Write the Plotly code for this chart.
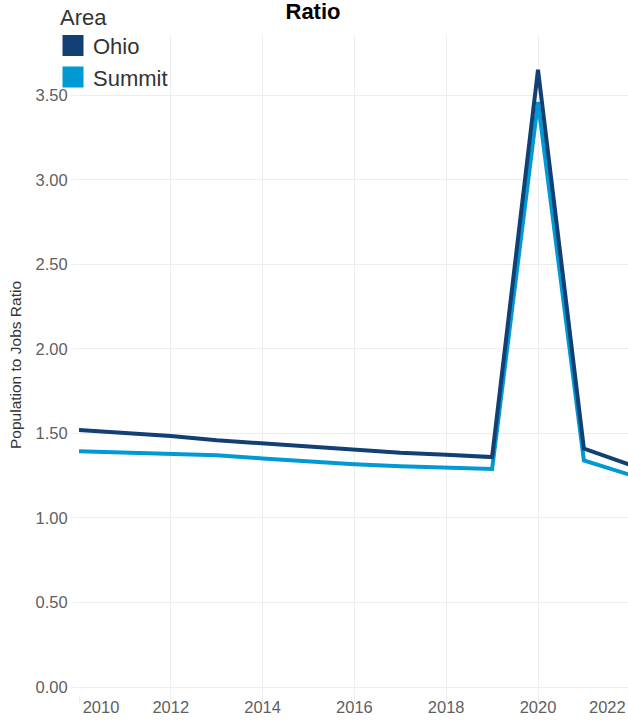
import plotly.graph_objects as go

years = [2010, 2011, 2012, 2013, 2014, 2015, 2016, 2017, 2018, 2019, 2020, 2021, 2022]
ohio = [1.52, 1.505, 1.485, 1.46, 1.44, 1.42, 1.40, 1.385, 1.374, 1.36, 3.65, 1.41, 1.315]
summit = [1.395, 1.386, 1.376, 1.371, 1.352, 1.333, 1.318, 1.306, 1.30, 1.29, 3.46, 1.34, 1.255]

x_grid = [2010, 2012, 2014, 2016, 2018, 2020, 2022]
x_label_pos = [2010.48, 2012, 2014, 2016, 2018, 2020, 2021.51]
x_label_text = ["2010", "2012", "2014", "2016", "2018", "2020", "2022"]
y_ticks = [0, 0.5, 1.0, 1.5, 2.0, 2.5, 3.0, 3.5]

OHIO_C = "#123f74"
SUMMIT_C = "#0099d4"
GRID = "#ededed"
FONT = "Liberation Sans, Arial, sans-serif"
TICK_C = "#5f5f5f"

fig = go.Figure()
fig.add_trace(go.Scatter(x=years, y=summit, mode="lines", line=dict(color=SUMMIT_C, width=4),
                         showlegend=False, name="Summit"))
fig.add_trace(go.Scatter(x=years, y=ohio, mode="lines", line=dict(color=OHIO_C, width=4),
                         showlegend=False, name="Ohio"))
# legend entries (square keys)
fig.add_trace(go.Scatter(x=[None], y=[None], mode="markers", name="Ohio",
                         marker=dict(symbol="square", size=16, color=OHIO_C,
                                     line=dict(color=OHIO_C, width=5))))
fig.add_trace(go.Scatter(x=[None], y=[None], mode="markers", name="Summit",
                         marker=dict(symbol="square", size=16, color=SUMMIT_C,
                                     line=dict(color=SUMMIT_C, width=5))))
# overlay axis carrying x tick labels
fig.add_trace(go.Scatter(x=[2010, 2022], y=[None, None], xaxis="x2", showlegend=False,
                         mode="lines", hoverinfo="skip"))

PLOT_L, PLOT_R, PLOT_T, PLOT_B = 79, 628, 35, 695
xr = [2010, 2010 + (PLOT_R - PLOT_L) / 45.9]

fig.update_layout(
    width=628, height=721,
    margin=dict(l=PLOT_L, r=628 - PLOT_R, t=PLOT_T, b=721 - PLOT_B, autoexpand=False),
    paper_bgcolor="white", plot_bgcolor="white",
    font=dict(family=FONT, color="#333333"),
    title=dict(text="<b>Ratio</b>", x=313/628, xanchor="center", y=1 - 11/721, yanchor="middle",
               font=dict(size=22, color="black", family=FONT)),
    xaxis=dict(range=xr, tickvals=x_grid, showticklabels=False, showgrid=True,
               gridcolor=GRID, gridwidth=1, ticks="outside", ticklen=7, tickcolor=GRID,
               zeroline=False, showline=False, automargin=False),
    xaxis2=dict(range=xr, overlaying="x", side="bottom", tickvals=x_label_pos,
                ticktext=x_label_text, showgrid=False, ticks="",
                zeroline=False, showline=False,
                tickfont=dict(size=16.5, color=TICK_C, family=FONT), automargin=False),
    yaxis=dict(range=[-0.047, 3.856], tickvals=y_ticks, tickformat=".2f", showgrid=True,
               gridcolor=GRID, gridwidth=1, ticks="outside", ticklen=7, tickcolor=GRID,
               zeroline=False, showline=False,
               tickfont=dict(size=16.5, color=TICK_C, family=FONT),
               title=dict(text="Population to Jobs Ratio", font=dict(size=15.5, color="#333333", family=FONT),
                          standoff=10),
               automargin=True),
    legend=dict(title=dict(text="Area", font=dict(size=22, color="#333333")),
                font=dict(size=22, color="#333333"),
                x=(58 - PLOT_L) / (PLOT_R - PLOT_L), y=(PLOT_B + 4) / (PLOT_B - PLOT_T),
                xanchor="left", yanchor="top", indentation=-5,
                bgcolor="rgba(0,0,0,0)", itemsizing="trace", tracegroupgap=0),
    showlegend=True,
)

fig.write_html("out.html", config={"displayModeBar": False},
               post_script="document.body.style.margin='0';")
